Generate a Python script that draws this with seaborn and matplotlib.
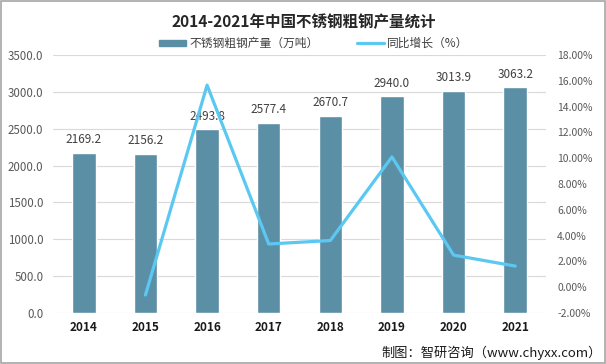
import matplotlib
matplotlib.use("Agg")
import matplotlib.pyplot as plt
import seaborn as sns
import pandas as pd
import numpy as np
from matplotlib.patches import Rectangle
from matplotlib.lines import Line2D

years = ["2014", "2015", "2016", "2017", "2018", "2019", "2020", "2021"]
output = [2169.2, 2156.2, 2493.8, 2577.4, 2670.7, 2940.0, 3013.9, 3063.2]
growth_years = ["2015", "2016", "2017", "2018", "2019", "2020", "2021"]
growth = [-0.60, 15.66, 3.35, 3.62, 10.10, 2.49, 1.64]

left_ticks = [0, 500, 1000, 1500, 2000, 2500, 3000, 3500]
right_ticks = [-2, 0, 2, 4, 6, 8, 10, 12, 14, 16, 18]

title = "2014-2021年中国不锈钢粗钢产量统计"
bar_label = "不锈钢粗钢产量（万吨）"
line_label = "同比增长（%）"
source = "制图：智研咨询（www.chyxx.com）"

sns.set_theme(style="white")
plt.rcParams['font.family'] = ['Noto Sans CJK SC', 'DejaVu Sans']

bar_color = "#5B8FA6"
line_color = "#5BC8F2"
tick_color = "#595959"

fig = plt.figure(figsize=(6.06, 3.64), dpi=100)
ax = fig.add_axes([0.0875, 0.140, 0.8135, 0.709])

df = pd.DataFrame({"year": years, "output": output})
sns.barplot(data=df, x="year", y="output", color=bar_color, width=0.38,
            saturation=1, ax=ax, zorder=2)
ax.set_ylim(0, 3500)
ax.set_yticks(left_ticks)
ax.set_yticklabels([f"{v:.1f}" for v in left_ticks], color=tick_color, fontsize=8.3)
ax.grid(axis="y", color="#D9D9D9", linewidth=0.8, zorder=0)
ax.set_xlabel("")
ax.set_ylabel("")
ax.tick_params(axis="y", length=0, pad=7)
ax.tick_params(axis="x", length=0, pad=6)
for lab in ax.get_xticklabels():
    lab.set_fontweight("bold")
    lab.set_fontsize(8.5)
    lab.set_color("#1a1a1a")
for s in ax.spines.values():
    s.set_visible(False)

for i, v in enumerate(output):
    ax.text(i, v + 90, f"{v:.1f}", ha="center", va="bottom", fontsize=8.5, color="#404040", zorder=5)

ax2 = ax.twinx()
gdf = pd.DataFrame({"year": [years.index(y) for y in growth_years], "growth": growth})
sns.lineplot(data=gdf, x="year", y="growth", color=line_color, linewidth=2.3, ax=ax2, zorder=4)
ax2.set_ylim(-2, 18)
ax2.set_yticks(right_ticks)
ax2.set_yticklabels([f"{v:.2f}%" for v in right_ticks], color=tick_color, fontsize=7.5)
ax2.tick_params(axis="y", length=0, pad=8)
ax2.set_ylabel("")
ax2.set_xlabel("")
for s in ax2.spines.values():
    s.set_visible(False)
ax.set_xlim(-0.5, len(years) - 0.5)

fig.text(0.502, 0.940, title, ha="center", va="center", fontsize=11.2, fontweight="bold", color="#262626")

handles = [Rectangle((0, 0), 1, 1, color=bar_color),
           Line2D([0], [0], color=line_color, linewidth=2.3)]
fig.legend(handles, [bar_label, line_label], loc="center", bbox_to_anchor=(0.518, 0.88),
           ncol=2, frameon=False, fontsize=8.5, handlelength=2.3, handleheight=0.5,
           handletextpad=0.25, columnspacing=3.3, labelcolor="#404040")

fig.text(0.993, 0.030, source, ha="right", va="center", fontsize=9.5, color="#1a1a1a")

fig.add_artist(Rectangle((0.001, 0.002), 0.997, 0.995, transform=fig.transFigure,
                         fill=False, edgecolor="#A6A6A6", linewidth=1.2))

fig.savefig("out.png", dpi=100)
